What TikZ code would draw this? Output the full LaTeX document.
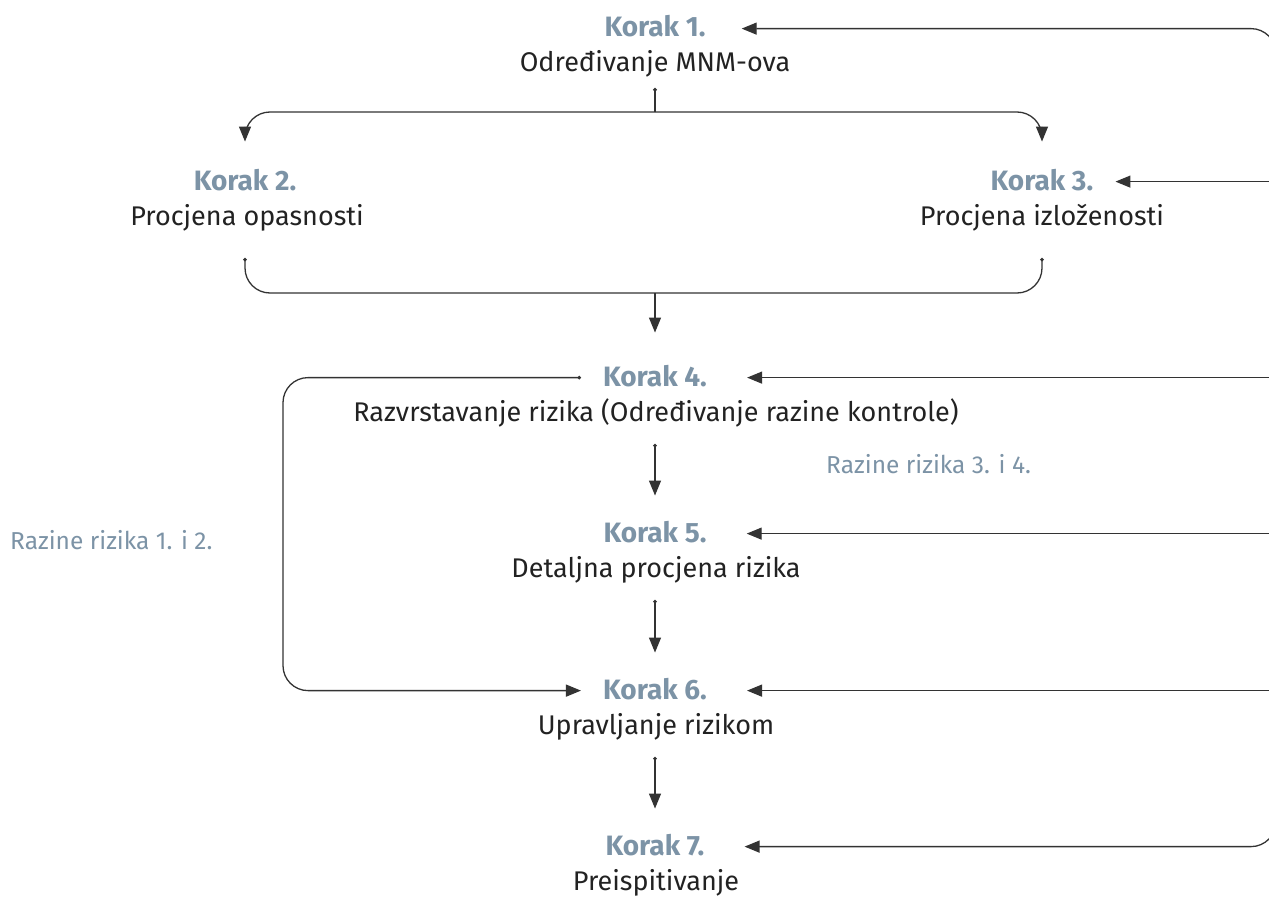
\documentclass[tikz,border=0pt]{standalone}
\usepackage{fontspec}
\setmainfont{Fira Sans}
\usepackage{xcolor}
\usetikzlibrary{
    arrows.meta,
    positioning,
    calc
}
\definecolor{korakplava}{HTML}{7C93A6}
\definecolor{linija}{HTML}{333333}
\definecolor{tekst}{HTML}{222222}

\tikzset{
    korak/.style={text=korakplava, font=\fontsize{28}{32}\selectfont\bfseries, inner sep=0pt, anchor=base},
    opis/.style={text=tekst, font=\fontsize{27}{31}\selectfont, inner sep=0pt, anchor=base},
    razina/.style={text=korakplava, font=\fontsize{24.5}{28}\selectfont, inner sep=0pt, anchor=base west},
    crta/.style={draw=linija, line width=1.3pt, rounded corners=25pt},
    povrat/.style={crta, -{Triangle[length=15pt,width=12pt]}},
    tok/.style={crta, {Circle[length=3.5pt]}-{Triangle[length=15pt,width=12pt]}}
}

\begin{document}
\begin{tikzpicture}[x=1pt,y=-1pt]
                \useasboundingbox (0,0) rectangle (1269,899);
                % koraci
                \node[korak] (k1) at (655,37) {Korak 1.};
                \node[opis] (d1) at (655,72) {Određivanje MNM-ova};
                \node[korak] (k2) at (245,190) {Korak 2.};
                \node[opis] (d2) at (247,225) {Procjena opasnosti};
                \node[korak] (k3) at (1042,190) {Korak 3.};
                \node[opis] (d3) at (1042,225) {Procjena izloženosti};
                \node[korak] (k4) at (655,386) {Korak 4.};
                \node[opis] (d4) at (656,421) {Razvrstavanje rizika (Određivanje razine kontrole)};
                \node[korak] (k5) at (655,542) {Korak 5.};
                \node[opis] (d5) at (656,577) {Detaljna procjena rizika};
                \node[korak] (k6) at (655,699) {Korak 6.};
                \node[opis] (d6) at (656,734) {Upravljanje rizikom};
                \node[korak] (k7) at (655,855) {Korak 7.};
                \node[opis] (d7) at (656,890) {Preispitivanje};
                \node[razina] (r34) at (826,473) {Razine rizika 3. i 4.};
                \node[razina] (r12) at (10,549) {Razine rizika 1. i 2.};

                % grananje i spajanje
                \coordinate (razdvoj) at (655,112);
                \coordinate (spoj) at (655,293);
                \draw[crta, {Circle[length=3.5pt]}-] (655,88) -- (razdvoj);
                \draw[povrat] (razdvoj) -| ([yshift=27pt]k2.north);
                \draw[povrat] (razdvoj) -| ([yshift=27pt]k3.north -| d3);
                \draw[crta, {Circle[length=3.5pt]}-{Circle[length=3.5pt]}] ([yshift=-27pt]d2.south -| k2) |- (spoj) -| ([yshift=-27pt]d3.south);
                \draw[povrat] (spoj) -- ([yshift=32pt]k4.north);
                \foreach \a/\b in {4/5,5/6,6/7}{
                    \draw[tok] ([yshift=-17pt]d\a.south -| k\b) -- ([yshift=25pt]k\b.north);
                }

                % lijeva petlja
                \coordinate (lijevo) at (283,533);
                \draw[tok] ([xshift=-22pt,yshift=-2pt]k4.west) -| (lijevo) |- ([xshift=-22pt,yshift=-2pt]k6.west);

                % desna tracnica
                \coordinate (tracnica) at (1276,440);
                \draw[povrat] (tracnica) |- ([xshift=36pt,yshift=-2pt]k1.east);
                \draw[povrat] (tracnica) |- ([xshift=40pt,yshift=-2pt]k7.east);
                \draw[povrat] ([yshift=-2pt]tracnica |- k3.east) -- ([xshift=22pt,yshift=-2pt]k3.east);
                \foreach \k in {4,5,6}{
                    \draw[povrat] ([yshift=-2pt]tracnica |- k\k.east) -- ([xshift=40pt,yshift=-2pt]k\k.east);
                }
            \end{tikzpicture}
\end{document}
